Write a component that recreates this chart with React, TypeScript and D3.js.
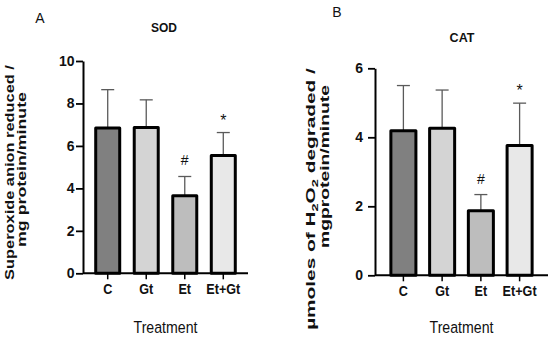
import React, { useEffect, useRef } from 'react';
import * as d3 from 'd3';

const groups = ['C', 'Gt', 'Et', 'Et+Gt'];
const sodMeans = [6.84, 6.87, 3.65, 5.55];
const sodErrTop = [8.65, 8.17, 4.56, 6.63];
const sodMarks = ['', '', '#', '*'];
const sodTicks = [0, 2, 4, 6, 8, 10];
const catMeans = [4.19, 4.26, 1.87, 3.76];
const catErrTop = [5.5, 5.37, 2.34, 4.99];
const catMarks = ['', '', '#', '*'];
const catTicks = [0, 2, 4, 6];
const barFills = ['#808080', '#d4d4d4', '#bdbdbd', '#e8e8e8'];

interface PanelCfg {
  letter: string;
  title: string;
  means: number[];
  errTop: number[];
  marks: string[];
  ticks: number[];
  x0: number;
  x1: number;
  y0: number;
  y1: number;
  padInner: number;
  padOuter: number;
  tickDx: number;
  letterX: number;
  letterY: number;
  titleX: number;
  titleY: number;
  titleSize: number;
  lab1: { x: number; y: number; len: number };
  lab2: { x: number; y: number; len: number };
  label2: string;
  h2o2: boolean;
}

const sans = '"Liberation Sans", Arial, sans-serif';

// stretch a text element to a target length (the reference image is not square-scaled)
const fitText = (
  sel: d3.Selection<SVGTextElement, unknown, null, undefined>,
  base: string,
  target: number
) => {
  const node = sel.node();
  if (!node) return;
  const w = node.getComputedTextLength();
  const s = w > 0 ? target / w : 1;
  sel.attr('transform', `${base} scale(${s},1)`);
};

const App: React.FC = () => {
  const svgRef = useRef<SVGSVGElement>(null);

  useEffect(() => {
    if (!svgRef.current) return;
    const svg = d3.select(svgRef.current);
    svg.selectAll('*').remove();

    const panels: PanelCfg[] = [
      {
        letter: 'A', title: 'SOD', means: sodMeans, errTop: sodErrTop, marks: sodMarks, ticks: sodTicks,
        x0: 83, x1: 248, y0: 273.3, y1: 61, padInner: 0.377, padOuter: 0.33, tickDx: -8.5,
        letterX: 40, letterY: 23, titleX: 164, titleY: 32, titleSize: 12,
        lab1: { x: 13.5, y: 172.5, len: 215 }, lab2: { x: 26, y: 169.5, len: 155 },
        label2: 'mg protein/minute', h2o2: false,
      },
      {
        letter: 'B', title: 'CAT', means: catMeans, errTop: catErrTop, marks: catMarks, ticks: catTicks,
        x0: 375, x1: 548, y0: 275.3, y1: 68.3, padInner: 0.354, padOuter: 0.41, tickDx: -12,
        letterX: 337, letterY: 17, titleX: 462, titleY: 42, titleSize: 12.5,
        lab1: { x: 315, y: 199, len: 262 }, lab2: { x: 329, y: 166.5, len: 163 },
        label2: 'mgprotein/minute', h2o2: true,
      },
    ];

    panels.forEach(p => {
      const g = svg.append('g');
      const maxT = p.ticks[p.ticks.length - 1];
      const y = d3.scaleLinear().domain([0, maxT]).range([p.y0, p.y1]);
      const x = d3.scaleBand<string>().domain(groups).range([p.x0, p.x1])
        .paddingInner(p.padInner).paddingOuter(p.padOuter);

      // panel letter + title
      g.append('text').attr('x', p.letterX).attr('y', p.letterY)
        .attr('text-anchor', 'middle').attr('font-family', sans).attr('font-size', 14)
        .attr('fill', '#111').text(p.letter);
      g.append('text').attr('x', p.titleX).attr('y', p.titleY)
        .attr('text-anchor', 'middle').attr('font-family', sans).attr('font-size', p.titleSize)
        .attr('font-weight', 'bold').attr('fill', '#111').text(p.title);

      // error bars (under the bars)
      const err = g.append('g');
      groups.forEach((c, i) => {
        const cx = (x(c) as number) + x.bandwidth() / 2;
        err.append('line').attr('x1', cx).attr('x2', cx)
          .attr('y1', y(p.means[i])).attr('y2', y(p.errTop[i]))
          .attr('stroke', '#5a5a5a').attr('stroke-width', 1.3);
        err.append('line').attr('x1', cx - 6.5).attr('x2', cx + 6.5)
          .attr('y1', y(p.errTop[i])).attr('y2', y(p.errTop[i]))
          .attr('stroke', '#5a5a5a').attr('stroke-width', 1.3);
        if (p.marks[i]) {
          const star = p.marks[i] === '*';
          g.append('text').attr('x', cx).attr('y', y(p.errTop[i]) - (star ? 7 : 11))
            .attr('text-anchor', 'middle').attr('font-family', sans).attr('font-size', star ? 16 : 14)
            .attr('fill', '#111').text(p.marks[i]);
        }
      });

      // bars
      g.selectAll('rect.bar').data(groups).enter().append('rect')
        .attr('class', 'bar')
        .attr('x', d => x(d) as number)
        .attr('width', x.bandwidth())
        .attr('y', (_, i) => y(p.means[i]))
        .attr('height', (_, i) => y(0) - y(p.means[i]))
        .attr('fill', (_, i) => barFills[i])
        .attr('stroke', '#000').attr('stroke-width', 3)
        .attr('stroke-linejoin', 'round');

      // y axis
      const ya = g.append('g').attr('transform', `translate(${p.x0},0)`)
        .call(d3.axisLeft(y).tickValues(p.ticks).tickSize(7).tickSizeOuter(0).tickFormat(d3.format('d')));
      ya.select('.domain').attr('stroke', '#000').attr('stroke-width', 2);
      ya.selectAll('.tick line').attr('stroke', '#000').attr('stroke-width', 1.8);
      ya.selectAll('.tick text').attr('font-family', sans).attr('font-size', 14)
        .attr('font-weight', 'bold').attr('fill', '#111').attr('x', p.tickDx);

      // x axis
      const xa = g.append('g').attr('transform', `translate(0,${p.y0})`)
        .call(d3.axisBottom(x).tickSize(6).tickSizeOuter(0));
      xa.select('.domain').attr('stroke', '#000').attr('stroke-width', 2)
        .attr('d', `M${p.x0},0H${p.x1}`);
      xa.selectAll('.tick line').attr('stroke', '#000').attr('stroke-width', 1.5);
      xa.selectAll('.tick text').attr('font-family', sans).attr('font-size', 14.5)
        .attr('font-weight', 'bold').attr('fill', '#111').attr('y', 10.5)
        .attr('transform', 'scale(0.87,1)');

      const tr = g.append('text').attr('text-anchor', 'middle').attr('font-family', sans)
        .attr('font-size', 17).attr('fill', '#111').text('Treatment');
      fitText(tr, `translate(${(p.x0 + p.x1) / 2},332.5)`, 64);

      // y label, two lines
      const l1 = g.append('text')
        .attr('text-anchor', 'middle').attr('font-family', sans).attr('font-size', 13.5)
        .attr('font-weight', 'bold').attr('fill', '#111');
      if (p.h2o2) {
        l1.append('tspan').text('µmoles of H');
        l1.append('tspan').attr('font-size', 9.5).attr('dy', 3).text('2');
        l1.append('tspan').attr('dy', -3).text('O');
        l1.append('tspan').attr('font-size', 9.5).attr('dy', 3).text('2');
        l1.append('tspan').attr('dy', -3).text(' degraded /');
      } else {
        l1.text('Superoxide anion reduced /');
      }
      fitText(l1, `translate(${p.lab1.x},${p.lab1.y}) rotate(-90)`, p.lab1.len);
      const l2 = g.append('text')
        .attr('text-anchor', 'middle').attr('font-family', sans).attr('font-size', 13.5)
        .attr('font-weight', 'bold').attr('fill', '#111').text(p.label2);
      fitText(l2, `translate(${p.lab2.x},${p.lab2.y}) rotate(-90)`, p.lab2.len);
    });
  }, []);

  return (
    <svg ref={svgRef} width={550} height={337}
      style={{ position: 'absolute', left: 0, top: 0, background: '#fff' }} />
  );
};

export default App;
